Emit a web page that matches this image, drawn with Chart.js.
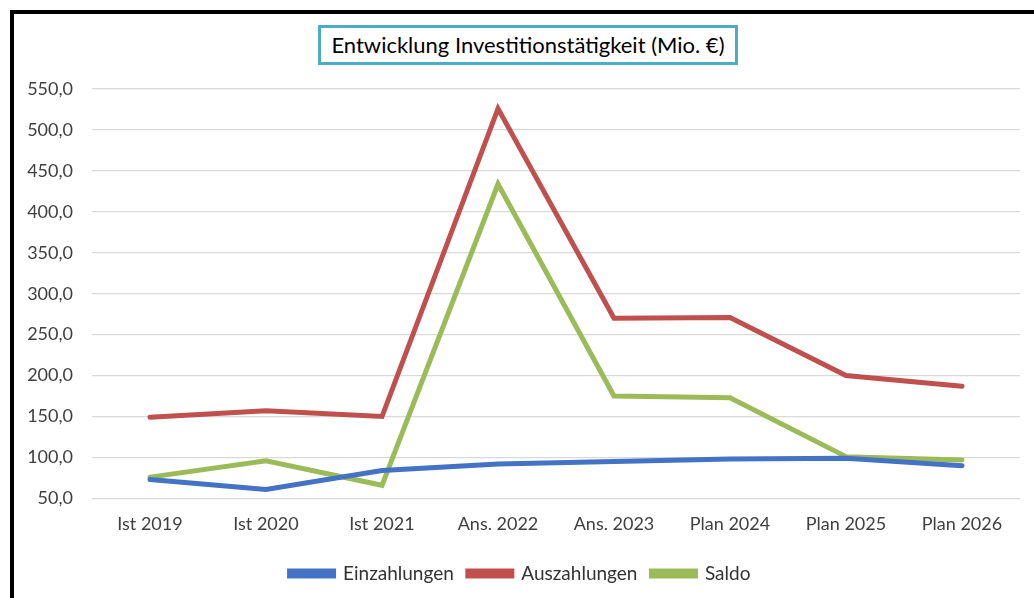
<!DOCTYPE html>
<html>
<head>
<meta charset="utf-8">
<script src="https://cdn.jsdelivr.net/npm/chart.js@4/dist/chart.umd.min.js"></script>
<style>
  html, body { margin: 0; padding: 0; background: #fff; }
  #wrap { position: relative; width: 1034px; height: 598px; overflow: hidden; }
  #frame { position: absolute; left: 10px; top: 10px; width: 1100px; height: 700px;
    border-top: 4px solid #000; border-left: 4px solid #000; pointer-events: none; }
  #title { position: absolute; left: 318px; top: 25px; width: 414px; height: 34px;
    border: 3px solid #4BACC6; font-family: Lato, sans-serif; font-size: 22px;
    line-height: 34px; text-align: center; color: #000; background: #fff; }
  #box { position: absolute; left: 0; top: 0; width: 1034px; height: 598px; }
</style>
</head>
<body>
<div id="wrap">
  <div id="box"><canvas id="lineChart"></canvas></div>
  <div id="frame"></div>
  <div id="title">Entwicklung Investitionstätigkeit (Mio. €)</div>
</div>
<script>
const labels = ["Ist 2019", "Ist 2020", "Ist 2021", "Ans. 2022", "Ans. 2023", "Plan 2024", "Plan 2025", "Plan 2026"];
const einzahlungen = [73, 61, 84, 92, 95, 98, 99, 90];
const auszahlungen = [149, 157, 150, 526, 270, 271, 200, 187];
const saldo = [76, 96, 66, 434, 175, 173, 101, 97];

const yTicks = [50, 100, 150, 200, 250, 300, 350, 400, 450, 500, 550];

const fontFam = "Lato, sans-serif";

// Excel-like colours
const blue = "#4472C4";
const red = "#C0504D";
const green = "#9BBB59";

function line(label, data, color) {
  return {
    label: label,
    data: data,
    borderColor: color,
    backgroundColor: color,
    borderWidth: 5,
    pointRadius: 0,
    tension: 0,
    borderCapStyle: "round"
  };
}

new Chart(document.getElementById("lineChart"), {
  type: "line",
  data: {
    labels: labels,
    datasets: [
      line("Einzahlungen", einzahlungen, blue),
      line("Auszahlungen", auszahlungen, red),
      line("Saldo", saldo, green)
    ]
  },
  options: {
    responsive: true,
    maintainAspectRatio: false,
    animation: false,
    layout: { padding: { left: 20, right: 14, top: 89, bottom: 5 } },
    plugins: {
      tooltip: { enabled: false },
      legend: {
        position: "bottom",
        labels: {
          boxWidth: 44,
          boxHeight: 5,
          padding: 14,
          color: "#333",
          font: { family: fontFam, size: 19 }
        }
      }
    },
    scales: {
      x: {
        offset: true,
        grid: { display: false, drawTicks: false },
        border: { display: false },
        ticks: {
          padding: 15,
          color: "#404040",
          maxRotation: 0,
          font: { family: fontFam, size: 18 }
        }
      },
      y: {
        min: 50,
        max: 550,
        afterFit: function (s) { s.width = 72; },
        afterBuildTicks: function (s) { s.ticks = yTicks.map(v => ({ value: v })); },
        grid: { color: "#d9d9d9", lineWidth: 1.2, drawTicks: false },
        border: { display: false },
        ticks: {
          padding: 19,
          color: "#404040",
          font: { family: fontFam, size: 18 },
          callback: v => v.toFixed(1).replace(".", ",")
        }
      }
    }
  }
});
</script>
</body>
</html>
